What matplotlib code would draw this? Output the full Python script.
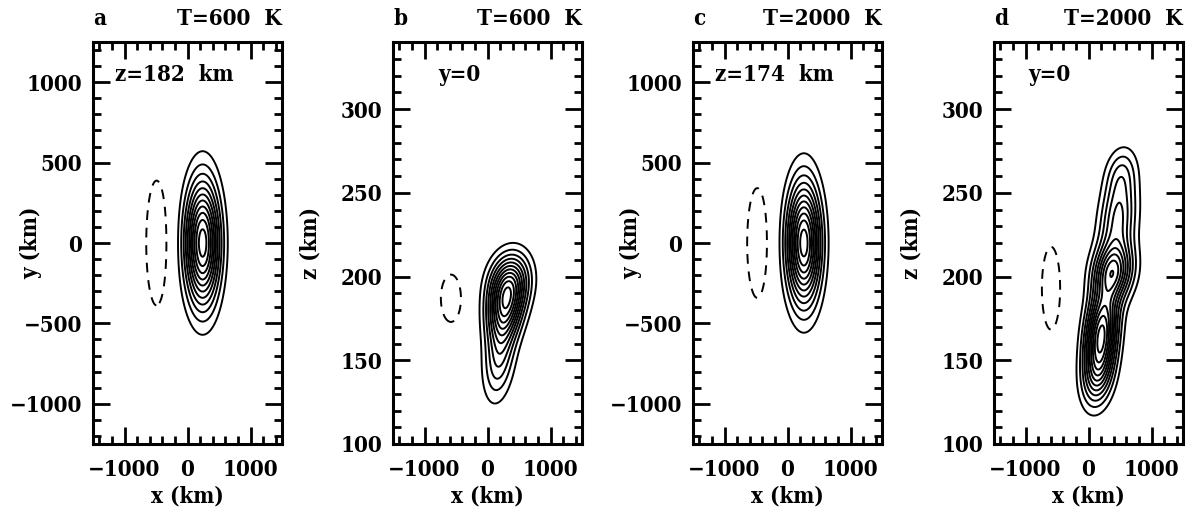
import numpy as np
import matplotlib
matplotlib.use('Agg')
import matplotlib.pyplot as plt
from matplotlib.ticker import MultipleLocator

plt.rcParams['font.family'] = ['DejaVu Serif']
plt.rcParams['font.weight'] = 'bold'
plt.rcParams['axes.labelweight'] = 'bold'
plt.rcParams['font.stretch'] = 'condensed'
plt.rcParams['font.size'] = 16
plt.rcParams['contour.negative_linestyle'] = (0, (5, 4))

# panel labels and annotations
PANELS = ['a', 'b', 'c', 'd']
TEMPS = ['T=600  K', 'T=600  K', 'T=2000  K', 'T=2000  K']
CUTS = ['z=182  km', 'y=0', 'z=174  km', 'y=0']
YLABELS = ['y (km)', 'z (km)', 'y (km)', 'z (km)']

# contour levels (fraction of the peak value)
POS_LEVELS = [0.10, 0.185, 0.27, 0.355, 0.44, 0.525, 0.61, 0.695, 0.78, 0.865, 0.95]
NEG_LEVELS = [-0.10]

# blobs: x0, y0 (or z0), sigma_x, sigma_y (or sigma_z), amplitude
# positive amplitudes are rescaled so the peak is 1, negative ones are relative to that peak
A_BLOBS = [(240, 0, 186, 266, 1.0),
           (-490, 0, 140, 330, -0.2)]
B_BLOBS = [(350, 197, 215, 12, 1.0),
           (275, 180, 190, 13, 1.0),
           (190, 153, 165, 18, 0.6),
           (-580, 187, 136, 12, -0.2)]
C_BLOBS = [(260, 0, 183, 260, 1.0),
           (-480, 0, 136, 290, -0.2)]
D_BLOBS = [(210, 168, 170, 17, 1.0),
           (150, 142, 170, 14, 0.5),
           (390, 203, 210, 12, 0.8),
           (470, 235, 195, 16, 0.5),
           (520, 262, 170, 11, 0.25),
           (-595, 193, 123, 21, -0.2)]
SHEAR = [0.0, 2.5, 0.0, 2.5]

x = np.linspace(-1500, 1500, 401)
y = np.linspace(-1250, 1250, 401)
z = np.linspace(100, 340, 401)

lefts = [93, 393, 693, 994]
cut_x = [0.116, 0.238, 0.116, 0.18]

fig = plt.figure(figsize=(11.94, 5.21), dpi=100)

for i, blobs in enumerate([A_BLOBS, B_BLOBS, C_BLOBS, D_BLOBS]):
    vert = y if i in (0, 2) else z
    X, V = np.meshgrid(x, vert)
    Fpos = np.zeros_like(X)
    Fneg = np.zeros_like(X)
    for x0, v0, sx, sv, amp in blobs:
        if amp > 0:
            xs = X - x0 - SHEAR[i] * (V - v0)
            Fpos += amp * np.exp(-0.5 * ((xs / sx) ** 2 + ((V - v0) / sv) ** 2))
        else:
            xs = X - x0
            Fneg += amp * np.exp(-0.5 * ((xs / sx) ** 2 + ((V - v0) / sv) ** 2))
    F = Fpos / Fpos.max() + Fneg

    ax = fig.add_axes([lefts[i] / 1194, 77 / 521, 189 / 1194, 402 / 521])
    ax.contour(X, V, F, levels=NEG_LEVELS + POS_LEVELS, colors='k', linewidths=1.4)

    ax.set_xlim(-1500, 1500)
    ax.xaxis.set_major_locator(MultipleLocator(1000))
    ax.xaxis.set_minor_locator(MultipleLocator(200))
    if i in (0, 2):
        ax.set_ylim(-1250, 1250)
        ax.yaxis.set_major_locator(MultipleLocator(500))
        ax.yaxis.set_minor_locator(MultipleLocator(100))
        ax.yaxis.set_label_coords(-0.27, 0.5)
    else:
        ax.set_ylim(100, 340)
        ax.yaxis.set_major_locator(MultipleLocator(50))
        ax.yaxis.set_minor_locator(MultipleLocator(10))
        ax.yaxis.set_label_coords(-0.376, 0.5)

    ax.tick_params(which='both', direction='in', top=True, right=True, width=2)
    ax.tick_params(which='major', length=12)
    ax.tick_params(which='minor', length=6)
    ax.tick_params(axis='x', which='major', pad=11)
    ax.tick_params(axis='y', which='major', pad=8)
    for sp in ax.spines.values():
        sp.set_linewidth(2.2)

    ax.set_xlabel('x (km)', labelpad=3)
    ax.set_ylabel(YLABELS[i])

    ax.text(0, 1.03, PANELS[i], transform=ax.transAxes, ha='left', va='bottom')
    ax.text(1, 1.03, TEMPS[i], transform=ax.transAxes, ha='right', va='bottom')
    ax.text(cut_x[i], 0.945, CUTS[i], transform=ax.transAxes, ha='left', va='top')

plt.savefig('out.png', dpi=100)
